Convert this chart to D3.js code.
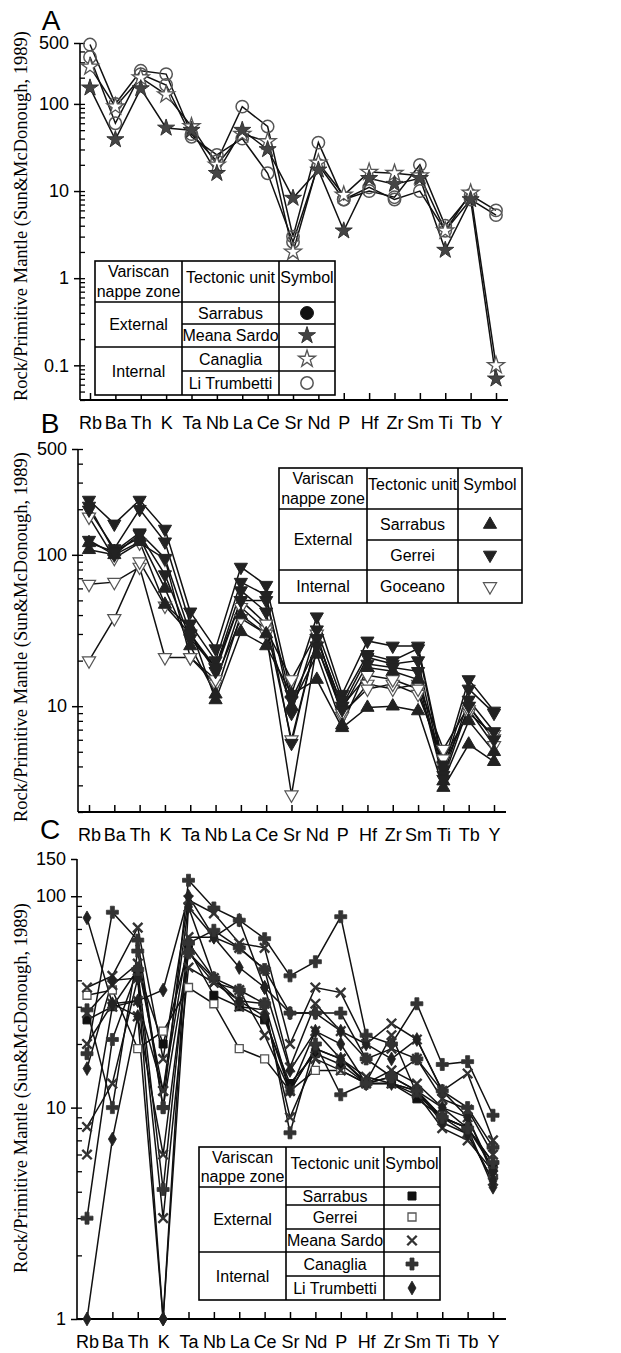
<!DOCTYPE html>
<html>
<head>
<meta charset="utf-8">
<script src="https://cdn.jsdelivr.net/npm/d3@7"></script>
<style>
  body { margin: 0; background: #fff; }
</style>
</head>
<body>
<div id="chart"></div>
<script>
// element order on every x axis
const elements = ['Rb', 'Ba', 'Th', 'K', 'Ta', 'Nb', 'La', 'Ce', 'Sr', 'Nd', 'P', 'Hf', 'Zr', 'Sm', 'Ti', 'Tb', 'Y'];

// ---- panel A ----
const aTicks = [500, 100, 10, 1, 0.1];
const aLiTrumbetti1 = [480, 100, 240, 220, 45, 22, 93, 55, 3.0, 36, 8, 10, 8.5, 20, 4.0, 9, 6.0];
const aLiTrumbetti2 = [345, 60, 220, 165, 42, 26, 40, 16, 2.6, 20, 8, 11, 8, 10, 3.5, 8, 5.3];
const aCanaglia = [266, 93, 200, 128, 55, 20, 45, 37, 2.0, 21, 9, 16.5, 16, 15, 3.5, 9.5, 0.1];
const aMeanaSardo = [153, 39, 150, 53, 50, 16, 50, 30, 8.3, 17.5, 3.5, 14, 12, 14, 2.1, 8, 0.07];
const aUnits = ['Sarrabus', 'Meana Sardo', 'Canaglia', 'Li Trumbetti'];

// ---- panel B ----
const bTicks = [500, 100, 10];
const bGerrei1 = [230, 160, 230, 148, 42, 24, 83, 63, 12, 39, 12, 27, 25, 25, 4.1, 15, 9.3];
const bGerrei2 = [198, 110, 200, 122, 35, 20, 66, 54, 9, 32, 11, 22, 20, 24, 3.8, 13, 9];
const bGerrei3 = [125, 100, 137, 74, 28, 18, 58, 42, 5.7, 28, 10, 21, 19, 20, 3.5, 11, 6.8];
const bGerrei4 = [210, 105, 140, 95, 30, 17, 50, 50, 11, 25, 9.5, 19, 18, 17, 3.3, 10, 6];
const bSarrabus1 = [108, 100, 122, 47, 33, 11, 31, 25, 12, 15, 7.2, 9.8, 10, 9.3, 2.9, 5.6, 4.3];
const bSarrabus2 = [120, 105, 130, 60, 25, 12, 40, 30, 10, 22, 7.5, 18, 17, 15, 3.2, 8, 5];
const bGoceano1 = [178, 95, 120, 94, 21, 14, 45, 32, 15, 30, 8.6, 14, 13, 14, 5.2, 10, 6.1];
const bGoceano2 = [64, 66, 83, 21, 21, 15, 38, 30, 2.6, 25, 9, 13, 14, 12, 4.5, 9, 6.5];
const bGoceano3 = [20, 38, 90, 46, 30, 18, 50, 35, 6, 28, 10, 16, 15, 13, 4, 9.5, 5.5];
const bUnits = ['Sarrabus', 'Gerrei', 'Goceano'];

// ---- panel C ----
const cTicks = [150, 100, 10, 1];
const cCanaglia1 = [18, 84, 62, 10, 119, 88, 77, 63, 42, 49, 80, 22, 20, 31, 16, 16.5, 9.2];
const cCanaglia2 = [3.0, 21, 45, 4.1, 60, 69, 57, 45, 28, 28, 28, 17, 14, 17, 12, 10, 6.5];
const cCanaglia3 = [29, 10, 55, 10, 54, 41, 36, 31, 7.6, 20, 11.5, 13, 14, 12, 9, 8, 5.5];
const cMeanaSardo1 = [37, 42, 71, 17, 96, 83, 60, 57, 20, 37, 35, 20, 25, 21, 12, 14.5, 7];
const cMeanaSardo2 = [28, 38, 48, 12, 64, 64, 57, 45, 15.5, 31, 23, 17, 19, 17, 11, 9.8, 6];
const cMeanaSardo3 = [8.1, 13, 41, 3.0, 46, 39, 32, 31, 12, 23, 17, 13.2, 22, 11.6, 8, 7, 5];
const cMeanaSardo4 = [6.0, 30, 32, 12, 89, 41, 30, 29, 9, 17, 15, 13, 15, 13, 10, 9, 4.8];
const cMeanaSardo5 = [20, 31, 27, 6, 54, 39, 36, 22, 12, 19, 17, 14, 13, 12, 9, 7.5, 4.5];
const cLiTrumbetti1 = [79, 31, 32, 36, 100, 64, 77, 37, 28, 28, 23, 20, 17, 21, 12, 9, 5];
const cLiTrumbetti2 = [1, 7.1, 27, 1, 89, 64, 46, 37, 15, 23, 20, 13, 14, 12, 10, 8, 4.2];
const cLiTrumbetti3 = [15.3, 40, 41, 1, 60, 41, 32, 27, 12, 19, 17, 13, 13, 12, 8.5, 7.5, 4.5];
const cGerrei1 = [34, 36, 19, 23, 37, 31, 19, 17, 12, 15, 15, 13, 13, 11.5, 9, 8, 5.5];
const cSarrabus1 = [26, 30, 45, 20, 56, 34, 30, 26, 13, 18, 16, 13, 13, 11, 9, 8, 5.2];
const cUnits = ['Sarrabus', 'Gerrei', 'Meana Sardo', 'Canaglia', 'Li Trumbetti'];

const sansFont = 'Liberation Sans, Arial, sans-serif';
const serifFont = 'Liberation Serif, Times New Roman, serif';

const svg = d3.select('#chart')
    .append('svg')
    .attr('width', 621)
    .attr('height', 1353);

function symbolPath(st) {
  return d3.symbol().type(st.type).size(st.size)();
}

function drawMarker(g, cx, cy, st) {
  g.append('path')
      .attr('d', symbolPath(st))
      .attr('transform', `translate(${cx},${cy}) rotate(${st.rotate || 0})`)
      .attr('fill', st.fill)
      .attr('stroke', st.stroke)
      .attr('stroke-width', st.sw);
}

function drawLegend(g, lg, units, styles) {
  const [c0, c1, c2, c3] = lg.cols;
  const lw = 1.6;
  const rows = [lg.header].concat(lg.rows);
  const box = g.append('g');
  box.append('rect')
      .attr('x', c0).attr('y', lg.top)
      .attr('width', c3 - c0).attr('height', rows[rows.length - 1] - lg.top)
      .attr('fill', '#fff').attr('stroke', '#000').attr('stroke-width', lw);
  [c1, c2].forEach((cx) => {
    box.append('line').attr('x1', cx).attr('x2', cx)
        .attr('y1', lg.top).attr('y2', rows[rows.length - 1])
        .attr('stroke', '#000').attr('stroke-width', lw);
  });
  // horizontal row lines
  rows.slice(0, -1).forEach((ry, i) => {
    const fullWidth = i === 0 || i === lg.zoneSplit;
    box.append('line')
        .attr('x1', fullWidth ? c0 : c1).attr('x2', c3)
        .attr('y1', ry).attr('y2', ry)
        .attr('stroke', '#000').attr('stroke-width', lw);
  });
  const txt = (tx, ty, s) => box.append('text')
      .attr('x', tx).attr('y', ty)
      .attr('text-anchor', 'middle')
      .attr('dominant-baseline', 'central')
      .attr('font-family', sansFont)
      .attr('font-size', 16)
      .text(s);
  const hh = lg.header - lg.top;
  txt((c0 + c1) / 2, lg.top + hh * 0.26, 'Variscan');
  txt((c0 + c1) / 2, lg.top + hh * 0.74, 'nappe zone');
  txt((c1 + c2) / 2, lg.top + hh * 0.4, 'Tectonic unit');
  txt((c2 + c3) / 2, lg.top + hh * 0.4, 'Symbol');
  const split = lg.rows[lg.zoneSplit - 1];
  txt((c0 + c1) / 2, (lg.header + split) / 2, 'External');
  txt((c0 + c1) / 2, (split + lg.rows[lg.rows.length - 1]) / 2, 'Internal');
  units.forEach((u, i) => {
    const y0 = rows[i];
    const y1 = rows[i + 1];
    txt((c1 + c2) / 2, (y0 + y1) / 2, u);
    drawMarker(box, (c2 + c3) / 2, (y0 + y1) / 2, styles[u]);
  });
}

function drawPanel(p) {
  const g = svg.append('g');
  const x = d3.scalePoint().domain(elements).range([p.xFirst, p.xLast]);
  const y = d3.scaleLog().domain(p.domain).range([p.bottom, p.top]);

  // minor ticks, pointing inwards
  const minor = y.ticks().filter((v) => v >= p.domain[0] && v <= p.domain[1]);
  g.append('g')
      .attr('transform', `translate(${p.axisX},0)`)
      .call(d3.axisLeft(y).tickValues(minor).tickSize(-5).tickFormat(''))
      .call((s) => s.select('.domain').remove())
      .selectAll('line').attr('stroke-width', 1.3);

  // major ticks and labels
  g.append('g')
      .attr('transform', `translate(${p.axisX},0)`)
      .call(d3.axisLeft(y).tickValues(p.ticks).tickSize(6).tickPadding(5).tickFormat(d3.format('~g')))
      .call((s) => s.select('.domain').remove())
      .attr('font-family', sansFont)
      .attr('font-size', 18)
      .selectAll('line').attr('stroke-width', 1.5);

  g.append('line')
      .attr('x1', p.axisX).attr('x2', p.axisX)
      .attr('y1', p.top).attr('y2', p.bottom)
      .attr('stroke', '#000').attr('stroke-width', 1.6);

  // x axis
  g.append('g')
      .attr('transform', `translate(0,${p.bottom})`)
      .call(d3.axisBottom(x).tickSize(-7).tickPadding(16))
      .call((s) => s.select('.domain').remove())
      .attr('font-family', sansFont)
      .attr('font-size', 18)
      .selectAll('line').attr('stroke-width', 1.5);

  g.append('line')
      .attr('x1', p.axisX).attr('x2', p.axisEnd)
      .attr('y1', p.bottom).attr('y2', p.bottom)
      .attr('stroke', '#000').attr('stroke-width', 1.8);

  // axis title
  g.append('text')
      .attr('transform', `translate(21,${p.titleY}) rotate(-90)`)
      .attr('text-anchor', 'middle')
      .attr('dominant-baseline', 'central')
      .attr('font-family', serifFont)
      .attr('font-size', 18.5)
      .text('Rock/Primitive Mantle (Sun&McDonough, 1989)');

  // panel letter
  g.append('text')
      .attr('x', p.letterX).attr('y', p.letterY)
      .attr('text-anchor', 'middle')
      .attr('dominant-baseline', 'central')
      .attr('font-family', sansFont)
      .attr('font-size', 28)
      .text(p.letter);

  const line = d3.line()
      .x((v, i) => x(elements[i]))
      .y((v) => y(v));

  p.series.forEach((s) => {
    g.append('path')
        .datum(s.values)
        .attr('d', line)
        .attr('fill', 'none')
        .attr('stroke', '#111')
        .attr('stroke-width', 1.5);
  });
  p.series.forEach((s) => {
    s.values.forEach((v, i) => {
      drawMarker(g, x(elements[i]), y(v), p.styles[s.unit]);
    });
  });

  drawLegend(g, p.legend, p.units, p.styles);
}

drawPanel({
  letter: 'A', letterX: 51, letterY: 20,
  axisX: 80, axisEnd: 508, xFirst: 90, xLast: 496,
  top: 43, bottom: 400, domain: [0.04, 500], ticks: aTicks,
  titleY: 216,
  series: [
    {unit: 'Li Trumbetti', values: aLiTrumbetti1},
    {unit: 'Li Trumbetti', values: aLiTrumbetti2},
    {unit: 'Canaglia', values: aCanaglia},
    {unit: 'Meana Sardo', values: aMeanaSardo},
  ],
  units: aUnits,
  styles: {
    'Sarrabus': {type: d3.symbolCircle, size: 130, fill: '#111', stroke: '#111', sw: 1},
    'Meana Sardo': {type: d3.symbolStar, size: 90, fill: '#444', stroke: '#333', sw: 1},
    'Canaglia': {type: d3.symbolStar, size: 90, fill: '#fff', stroke: '#555', sw: 1.3},
    'Li Trumbetti': {type: d3.symbolCircle, size: 120, fill: 'none', stroke: '#555', sw: 1.5},
  },
  legend: {cols: [95, 182, 279, 335], top: 261, header: 302, rows: [324, 347, 371, 395], zoneSplit: 2},
});

drawPanel({
  letter: 'B', letterX: 50, letterY: 423,
  axisX: 78, axisEnd: 506, xFirst: 89, xLast: 494,
  top: 449, bottom: 812, domain: [2, 500], ticks: bTicks,
  titleY: 637,
  series: [
    {unit: 'Goceano', values: bGoceano1},
    {unit: 'Goceano', values: bGoceano2},
    {unit: 'Goceano', values: bGoceano3},
    {unit: 'Sarrabus', values: bSarrabus1},
    {unit: 'Sarrabus', values: bSarrabus2},
    {unit: 'Gerrei', values: bGerrei1},
    {unit: 'Gerrei', values: bGerrei2},
    {unit: 'Gerrei', values: bGerrei3},
    {unit: 'Gerrei', values: bGerrei4},
  ],
  units: bUnits,
  styles: {
    'Sarrabus': {type: d3.symbolTriangle, size: 75, fill: '#222', stroke: '#222', sw: 1},
    'Gerrei': {type: d3.symbolTriangle, size: 75, fill: '#222', stroke: '#222', sw: 1, rotate: 180},
    'Goceano': {type: d3.symbolTriangle, size: 75, fill: '#fff', stroke: '#555', sw: 1.2, rotate: 180},
  },
  legend: {cols: [279, 367, 458, 522], top: 468, header: 509, rows: [540, 570, 603], zoneSplit: 2},
});

drawPanel({
  letter: 'C', letterX: 50, letterY: 829,
  axisX: 77, axisEnd: 506, xFirst: 87, xLast: 493,
  top: 859, bottom: 1319, domain: [1, 150], ticks: cTicks,
  titleY: 1088,
  series: [
    {unit: 'Gerrei', values: cGerrei1},
    {unit: 'Sarrabus', values: cSarrabus1},
    {unit: 'Meana Sardo', values: cMeanaSardo1},
    {unit: 'Meana Sardo', values: cMeanaSardo2},
    {unit: 'Meana Sardo', values: cMeanaSardo3},
    {unit: 'Meana Sardo', values: cMeanaSardo4},
    {unit: 'Meana Sardo', values: cMeanaSardo5},
    {unit: 'Li Trumbetti', values: cLiTrumbetti1},
    {unit: 'Li Trumbetti', values: cLiTrumbetti2},
    {unit: 'Li Trumbetti', values: cLiTrumbetti3},
    {unit: 'Canaglia', values: cCanaglia1},
    {unit: 'Canaglia', values: cCanaglia2},
    {unit: 'Canaglia', values: cCanaglia3},
  ],
  units: cUnits,
  styles: {
    'Sarrabus': {type: d3.symbolSquare, size: 64, fill: '#111', stroke: '#111', sw: 1},
    'Gerrei': {type: d3.symbolSquare, size: 64, fill: '#fff', stroke: '#555', sw: 1.3},
    'Meana Sardo': {type: d3.symbolTimes, size: 60, fill: 'none', stroke: '#333', sw: 2.4},
    'Canaglia': {type: d3.symbolCross, size: 80, fill: '#333', stroke: '#333', sw: 0.8},
    'Li Trumbetti': {type: d3.symbolDiamond, size: 55, fill: '#222', stroke: '#222', sw: 0.8},
  },
  legend: {cols: [199, 286, 384, 440], top: 1147, header: 1187, rows: [1205, 1229, 1252, 1276, 1300], zoneSplit: 3},
});
</script>
</body>
</html>
